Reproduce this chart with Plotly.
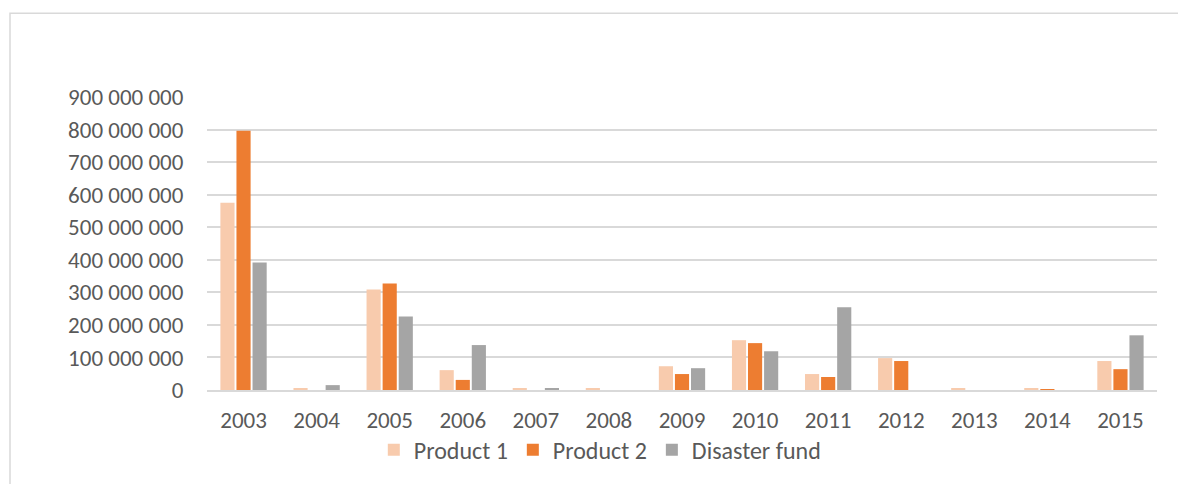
import plotly.graph_objects as go

years = ["2003", "2004", "2005", "2006", "2007", "2008", "2009",
         "2010", "2011", "2012", "2013", "2014", "2015"]
product_1 = [575e6, 5e6, 309e6, 61e6, 4e6, 4e6, 73e6, 153e6, 49e6, 98e6, 4e6, 4e6, 89e6]
product_2 = [796e6, 0, 327e6, 31e6, 0, 0, 49e6, 144e6, 40e6, 89e6, 0, 3e6, 64e6]
disaster_fund = [392e6, 15e6, 226e6, 138e6, 5e6, 0, 67e6, 119e6, 254e6, 0, 0, 0, 168e6]
y_ticks = [0, 100e6, 200e6, 300e6, 400e6, 500e6, 600e6, 700e6, 800e6, 900e6]
y_labels = ["0", "100 000 000", "200 000 000", "300 000 000", "400 000 000",
            "500 000 000", "600 000 000", "700 000 000", "800 000 000", "900 000 000"]

FONT = "Calibri, Carlito, Lato, 'Open Sans', sans-serif"
TEXT = "#595959"

fig = go.Figure()
for name, vals, col in [("Product 1", product_1, "#F8CBAD"),
                        ("Product 2", product_2, "#ED7D31"),
                        ("Disaster fund", disaster_fund, "#A5A5A5")]:
    fig.add_trace(go.Bar(x=years, y=vals, name=name, marker_color=col,
                         marker_line_width=0))

fig.update_layout(
    width=1178, height=484,
    barmode="group", bargap=0.34, bargroupgap=0.12,
    plot_bgcolor="white", paper_bgcolor="white",
    margin=dict(l=207, r=21, t=97, b=89),
    font=dict(family=FONT, size=23, color=TEXT),
    showlegend=True,
    legend=dict(orientation="h", x=0.414, xanchor="center", y=-0.205, yanchor="middle",
                bgcolor="rgba(0,0,0,0)",
                font=dict(size=24, color=TEXT), itemwidth=30,
                traceorder="normal"),
    xaxis=dict(showgrid=False, showline=True, linecolor="#D9D9D9", linewidth=2,
               ticks="outside", ticklen=8, tickcolor="rgba(0,0,0,0)",
               tickfont=dict(size=23, color=TEXT)),
    yaxis=dict(range=[0, 900e6], tickvals=y_ticks, ticktext=y_labels,
               showgrid=True, gridcolor="#D9D9D9", gridwidth=1.5,
               zeroline=False, ticks="outside", ticklen=18,
               tickcolor="rgba(0,0,0,0)", tickfont=dict(size=23, color=TEXT)),
    shapes=[dict(type="rect", xref="paper", yref="paper",
                 x0=(10 - 207) / 950, x1=(1190 - 207) / 950,
                 y0=-0.5, y1=(391 - 13) / 294,
                 line=dict(color="#D9D9D9", width=1.5), layer="below")],
)

fig.write_html("out.html", config={"displayModeBar": False},
               post_script="document.body.style.margin='0';document.body.style.overflow='hidden';")
